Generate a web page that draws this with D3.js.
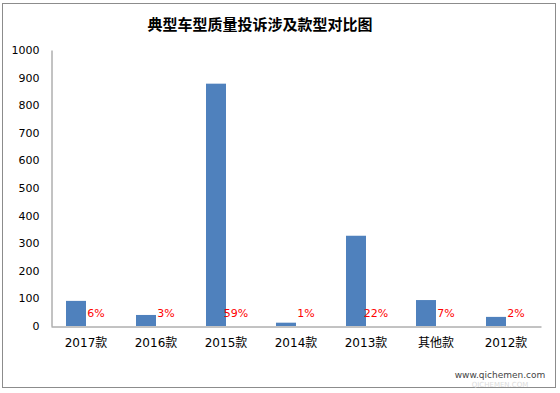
<!DOCTYPE html>
<html><head><meta charset="utf-8">
<script src="https://cdn.jsdelivr.net/npm/d3@7"></script>
<style>body{margin:0;background:#fff}svg{display:block}</style>
</head><body>
<script>
const categories = ["2017款","2016款","2015款","2014款","2013款","其他款","2012款"];
const values = [91, 40, 878, 12, 327, 94, 33];
const percents = ["6%","3%","59%","1%","22%","7%","2%"];
const yTicks = [0,100,200,300,400,500,600,700,800,900,1000];

const W = 560, H = 393;
const svg = d3.select("body").append("svg").attr("width", W).attr("height", H);
svg.append("rect").attr("x", 2.5).attr("y", 3.5).attr("width", 553).attr("height", 384)
  .attr("fill", "#fff").attr("stroke", "#8c8c8c").attr("stroke-width", 1);

const m = {left: 51, right: 541, top: 50, bottom: 326};
const x = d3.scaleBand().domain(categories).range([m.left, m.right]);
const sub = d3.scaleBand().domain(["v","p"]).range([0, x.bandwidth()]).paddingOuter(0.75);
const y = d3.scaleLinear().domain([0, 1000]).range([m.bottom, m.top]);

svg.append("text").attr("x", 260).attr("y", 30).attr("text-anchor", "middle")
  .attr("font-family", "'Noto Sans CJK SC', sans-serif").attr("font-weight", "bold")
  .attr("font-size", 15).attr("fill", "#000").text("典型车型质量投诉涉及款型对比图");

// axes
const yAxis = d3.axisLeft(y).tickValues(yTicks).tickFormat(d3.format("d")).tickSize(0).tickPadding(12);
const gy = svg.append("g").attr("transform", `translate(${m.left + 0.5},0)`).call(yAxis);
gy.select(".domain").attr("stroke", "#868686");
gy.selectAll("text").attr("font-family", "'DejaVu Sans', sans-serif").attr("font-size", 11).attr("fill", "#000");

const xAxis = d3.axisBottom(x).tickSize(0).tickPadding(12);
const gx = svg.append("g").attr("transform", `translate(0,${m.bottom + 0.5})`).call(xAxis);
gx.select(".domain").attr("stroke", "#868686");
gx.selectAll("text").attr("font-family", "'DejaVu Sans','Noto Sans CJK SC', sans-serif").attr("font-size", 12).attr("fill", "#000");

// bars
svg.selectAll("rect.bar").data(categories).enter().append("rect").attr("class", "bar")
  .attr("x", d => x(d) + sub("v"))
  .attr("width", sub.bandwidth())
  .attr("y", (d, i) => y(values[i]))
  .attr("height", (d, i) => y(0) - y(values[i]))
  .attr("fill", "#4F81BD");

svg.selectAll("text.pct").data(categories).enter().append("text").attr("class", "pct")
  .attr("x", d => x(d) + sub("p") + sub.bandwidth() / 2)
  .attr("y", 317).attr("text-anchor", "middle")
  .attr("font-family", "'DejaVu Sans', sans-serif").attr("font-size", 11).attr("fill", "#FF0000")
  .text((d, i) => percents[i]);

// watermark
svg.append("text").attr("x", 500).attr("y", 378).attr("text-anchor", "middle")
  .attr("font-family", "'DejaVu Sans', sans-serif").attr("font-size", 9).attr("fill", "#444")
  .text("www.qichemen.com");
svg.append("text").attr("x", 500).attr("y", 387).attr("text-anchor", "middle")
  .attr("font-family", "'DejaVu Sans', sans-serif").attr("font-size", 7).attr("fill", "#ddd")
  .text("QICHEMEN.COM");
</script>
</body></html>
